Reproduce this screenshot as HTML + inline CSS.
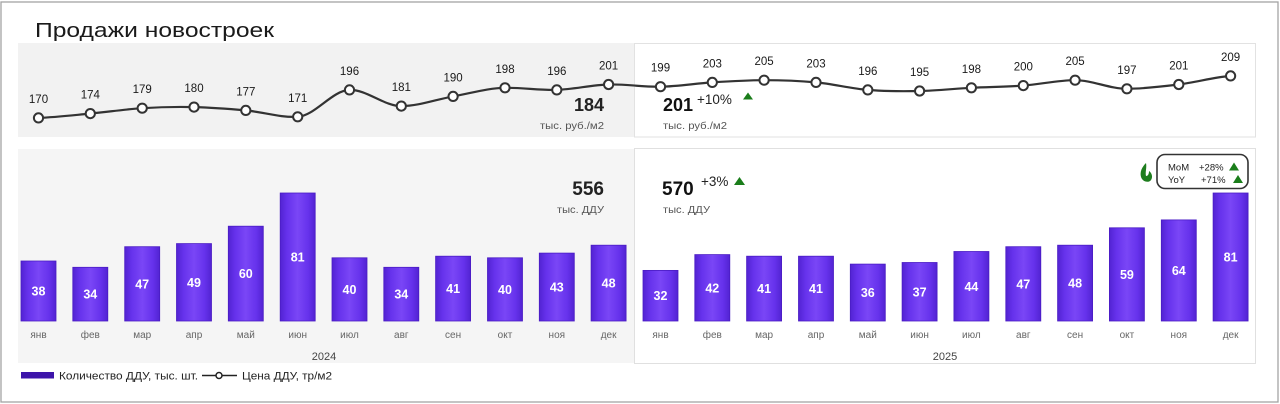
<!DOCTYPE html>
<html><head><meta charset="utf-8"><style>
html,body{margin:0;padding:0;background:#fff;}
svg{display:block;}
text{font-family:"Liberation Sans","DejaVu Sans",sans-serif;}
</style></head><body>
<svg width="1280" height="404" viewBox="0 0 1280 404" xmlns="http://www.w3.org/2000/svg">
<defs>
<linearGradient id="bar" x1="0" y1="0" x2="1" y2="0">
<stop offset="0" stop-color="#5223d2"/>
<stop offset="0.2" stop-color="#6632ec"/>
<stop offset="0.5" stop-color="#7a46f6"/>
<stop offset="0.8" stop-color="#6632ec"/>
<stop offset="1" stop-color="#5223d2"/>
</linearGradient>
</defs>
<rect x="0" y="0" width="1280" height="404" fill="#fff"/>
<!-- outer frame -->
<rect x="1" y="2" width="1277" height="400" fill="none" stroke="#a3a3a3" stroke-width="1.3"/>

<!-- title -->
<text x="35" y="37" font-size="20" fill="#1a1a1a" textLength="239" lengthAdjust="spacingAndGlyphs">Продажи новостроек</text>

<!-- top panels -->
<rect x="18" y="43" width="616" height="94" fill="#f2f2f2"/>
<rect x="634.5" y="43.5" width="621" height="93.5" fill="#fff" stroke="#e2e2e2" stroke-width="1"/>
<!-- bottom panels -->
<rect x="18" y="149" width="616" height="214" fill="#f5f5f5"/>
<rect x="634.5" y="148.5" width="621" height="215" fill="#fff" stroke="#e0e0e0" stroke-width="1"/>

<!-- line -->
<path fill="none" stroke="#333" stroke-width="2.2" d="M38.5,117.9 C55.8,117.2 73.0,115.2 90.3,113.6 C107.6,112.0 124.9,109.3 142.2,108.2 C159.5,107.1 176.7,106.7 194.0,107.1 C211.3,107.5 228.5,108.8 245.8,110.4 C263.1,112.0 280.4,117.8 297.7,116.8 C315.0,115.8 332.2,90.4 349.5,89.9 C366.8,89.4 384.0,106.1 401.3,106.1 C418.6,106.1 435.8,99.5 453.1,96.4 C470.4,93.4 487.7,88.1 505.0,87.8 C522.3,87.5 539.5,90.4 556.8,89.9 C574.1,89.3 591.3,85.0 608.6,84.5 C625.9,84.0 643.2,87.1 660.5,86.7 C677.8,86.4 695.0,83.5 712.3,82.4 C729.6,81.3 746.8,80.2 764.1,80.2 C781.4,80.2 798.7,80.8 816.0,82.4 C833.3,84.0 850.5,88.5 867.8,89.9 C885.1,91.3 902.3,91.4 919.6,91.0 C936.9,90.7 954.1,88.7 971.4,87.8 C988.7,86.9 1006.0,86.9 1023.3,85.6 C1040.6,84.3 1057.8,80.2 1075.1,80.2 C1092.4,80.2 1109.6,88.8 1126.9,88.8 C1144.2,88.8 1161.5,86.6 1178.8,84.5 C1196.1,82.4 1213.3,77.3 1230.6,75.9"/>
<g fill="#fff" stroke="#333" stroke-width="2">
<circle cx="38.5" cy="117.9" r="4.6"/><circle cx="90.3" cy="113.6" r="4.6"/><circle cx="142.2" cy="108.2" r="4.6"/><circle cx="194.0" cy="107.1" r="4.6"/><circle cx="245.8" cy="110.4" r="4.6"/><circle cx="297.7" cy="116.8" r="4.6"/><circle cx="349.5" cy="89.9" r="4.6"/><circle cx="401.3" cy="106.1" r="4.6"/><circle cx="453.1" cy="96.4" r="4.6"/><circle cx="505.0" cy="87.8" r="4.6"/><circle cx="556.8" cy="89.9" r="4.6"/><circle cx="608.6" cy="84.5" r="4.6"/><circle cx="660.5" cy="86.7" r="4.6"/><circle cx="712.3" cy="82.4" r="4.6"/><circle cx="764.1" cy="80.2" r="4.6"/><circle cx="816.0" cy="82.4" r="4.6"/><circle cx="867.8" cy="89.9" r="4.6"/><circle cx="919.6" cy="91.0" r="4.6"/><circle cx="971.4" cy="87.8" r="4.6"/><circle cx="1023.3" cy="85.6" r="4.6"/><circle cx="1075.1" cy="80.2" r="4.6"/><circle cx="1126.9" cy="88.8" r="4.6"/><circle cx="1178.8" cy="84.5" r="4.6"/><circle cx="1230.6" cy="75.9" r="4.6"/>
</g>
<g font-size="11.5" fill="#1a1a1a" text-anchor="middle">
<text x="38.5" y="102.9">170</text><text x="90.3" y="98.6">174</text><text x="142.2" y="93.2">179</text><text x="194.0" y="92.1">180</text><text x="245.8" y="95.4">177</text><text x="297.7" y="101.8">171</text><text x="349.5" y="74.9">196</text><text x="401.3" y="91.1">181</text><text x="453.1" y="81.4">190</text><text x="505.0" y="72.8">198</text><text x="556.8" y="74.9">196</text><text x="608.6" y="69.5">201</text><text x="660.5" y="71.7">199</text><text x="712.3" y="67.4">203</text><text x="764.1" y="65.2">205</text><text x="816.0" y="67.4">203</text><text x="867.8" y="74.9">196</text><text x="919.6" y="76.0">195</text><text x="971.4" y="72.8">198</text><text x="1023.3" y="70.6">200</text><text x="1075.1" y="65.2">205</text><text x="1126.9" y="73.8">197</text><text x="1178.8" y="69.5">201</text><text x="1230.6" y="60.9">209</text>
</g>

<!-- price summaries -->
<text x="604" y="111" font-size="18" font-weight="bold" fill="#222" text-anchor="end">184</text>
<text x="604" y="129" font-size="10" fill="#555" text-anchor="end" textLength="64" lengthAdjust="spacingAndGlyphs">тыс. руб./м2</text>
<text x="663" y="111" font-size="18" font-weight="bold" fill="#111">201</text>
<text x="697" y="104" font-size="13.5" fill="#222">+10%</text>
<path d="M743,99.5 L748,92.5 L753,99.5 Z" fill="#1a7d1a"/>
<text x="663" y="129" font-size="10" fill="#555" textLength="64" lengthAdjust="spacingAndGlyphs">тыс. руб./м2</text>

<!-- bars -->
<g fill="url(#bar)" stroke="#4a1cc4" stroke-width="0.8">
<rect x="21.0" y="261.0" width="35" height="60.0"/>
<rect x="72.8" y="267.3" width="35" height="53.7"/>
<rect x="124.7" y="246.7" width="35" height="74.3"/>
<rect x="176.5" y="243.6" width="35" height="77.4"/>
<rect x="228.3" y="226.2" width="35" height="94.8"/>
<rect x="280.2" y="193.0" width="35" height="128.0"/>
<rect x="332.0" y="257.8" width="35" height="63.2"/>
<rect x="383.8" y="267.3" width="35" height="53.7"/>
<rect x="435.6" y="256.2" width="35" height="64.8"/>
<rect x="487.5" y="257.8" width="35" height="63.2"/>
<rect x="539.3" y="253.1" width="35" height="67.9"/>
<rect x="591.1" y="245.2" width="35" height="75.8"/>
<rect x="643.0" y="270.4" width="35" height="50.6"/>
<rect x="694.8" y="254.6" width="35" height="66.4"/>
<rect x="746.6" y="256.2" width="35" height="64.8"/>
<rect x="798.5" y="256.2" width="35" height="64.8"/>
<rect x="850.3" y="264.1" width="35" height="56.9"/>
<rect x="902.1" y="262.5" width="35" height="58.5"/>
<rect x="953.9" y="251.5" width="35" height="69.5"/>
<rect x="1005.8" y="246.7" width="35" height="74.3"/>
<rect x="1057.6" y="245.2" width="35" height="75.8"/>
<rect x="1109.4" y="227.8" width="35" height="93.2"/>
<rect x="1161.3" y="219.9" width="35" height="101.1"/>
<rect x="1213.1" y="193.0" width="35" height="128.0"/>
</g>
<g font-size="12.5" font-weight="bold" fill="#fff" text-anchor="middle">
<text x="38.5" y="295.5">38</text><text x="90.3" y="298.7">34</text><text x="142.2" y="288.4">47</text><text x="194.0" y="286.8">49</text><text x="245.8" y="278.1">60</text><text x="297.7" y="261.5">81</text><text x="349.5" y="293.9">40</text><text x="401.3" y="298.7">34</text><text x="453.1" y="293.1">41</text><text x="505.0" y="293.9">40</text><text x="556.8" y="291.6">43</text><text x="608.6" y="287.6">48</text><text x="660.5" y="300.2">32</text><text x="712.3" y="292.3">42</text><text x="764.1" y="293.1">41</text><text x="816.0" y="293.1">41</text><text x="867.8" y="297.1">36</text><text x="919.6" y="296.3">37</text><text x="971.4" y="290.8">44</text><text x="1023.3" y="288.4">47</text><text x="1075.1" y="287.6">48</text><text x="1126.9" y="278.9">59</text><text x="1178.8" y="275.0">64</text><text x="1230.6" y="261.5">81</text>
</g>

<!-- month labels -->
<g font-size="10" fill="#666" text-anchor="middle">
<text x="38.5" y="338">янв</text><text x="90.3" y="338">фев</text><text x="142.2" y="338">мар</text><text x="194.0" y="338">апр</text><text x="245.8" y="338">май</text><text x="297.7" y="338">июн</text><text x="349.5" y="338">июл</text><text x="401.3" y="338">авг</text><text x="453.1" y="338">сен</text><text x="505.0" y="338">окт</text><text x="556.8" y="338">ноя</text><text x="608.6" y="338">дек</text>
<text x="660.5" y="338">янв</text><text x="712.3" y="338">фев</text><text x="764.1" y="338">мар</text><text x="816.0" y="338">апр</text><text x="867.8" y="338">май</text><text x="919.6" y="338">июн</text><text x="971.4" y="338">июл</text><text x="1023.3" y="338">авг</text><text x="1075.1" y="338">сен</text><text x="1126.9" y="338">окт</text><text x="1178.8" y="338">ноя</text><text x="1230.6" y="338">дек</text>
</g>
<g font-size="11" fill="#444" text-anchor="middle">
<text x="324" y="360">2024</text>
<text x="945" y="360">2025</text>
</g>

<!-- count summaries -->
<text x="604" y="195" font-size="19" font-weight="bold" fill="#222" text-anchor="end">556</text>
<text x="604" y="213" font-size="10" fill="#555" text-anchor="end" textLength="47" lengthAdjust="spacingAndGlyphs">тыс. ДДУ</text>
<text x="662" y="195" font-size="19" font-weight="bold" fill="#111">570</text>
<text x="701" y="186" font-size="13.5" fill="#222">+3%</text>
<path d="M734,185 L739.5,177 L745,185 Z" fill="#1a7d1a"/>
<text x="663" y="213" font-size="10" fill="#555" textLength="47" lengthAdjust="spacingAndGlyphs">тыс. ДДУ</text>

<!-- MoM / YoY box -->
<path d="M1146,163 C1141,168 1139,174 1142,179 C1144,182 1149,183 1151,180 C1153,177 1152,173 1149,171 C1149,174 1148,176 1146,176 C1145,172 1147,168 1146,163 Z" fill="#1e7d1e"/>
<rect x="1157" y="154.5" width="91" height="34" rx="8" ry="8" fill="#fff" stroke="#333" stroke-width="1.6"/>
<g font-size="9.5" fill="#222">
<text x="1168" y="170.5">MoM</text><text x="1199" y="170.5">+28%</text>
<text x="1168" y="183">YoY</text><text x="1201" y="183">+71%</text>
</g>
<path d="M1229,170.5 L1234,162.5 L1239,170.5 Z" fill="#1a7d1a"/>
<path d="M1233,183 L1238,175 L1243,183 Z" fill="#1a7d1a"/>

<!-- legend -->
<rect x="21" y="372" width="33" height="6.5" fill="#3d14aa"/>
<text x="59" y="379.5" font-size="11" fill="#222" textLength="139" lengthAdjust="spacingAndGlyphs">Количество ДДУ, тыс. шт.</text>
<line x1="202" y1="375.5" x2="237" y2="375.5" stroke="#222" stroke-width="1.6"/>
<circle cx="219" cy="375.5" r="3" fill="#fff" stroke="#222" stroke-width="1.5"/>
<text x="242" y="379.5" font-size="11" fill="#222" textLength="90" lengthAdjust="spacingAndGlyphs">Цена ДДУ, тр/м2</text>
</svg>
</body></html>
